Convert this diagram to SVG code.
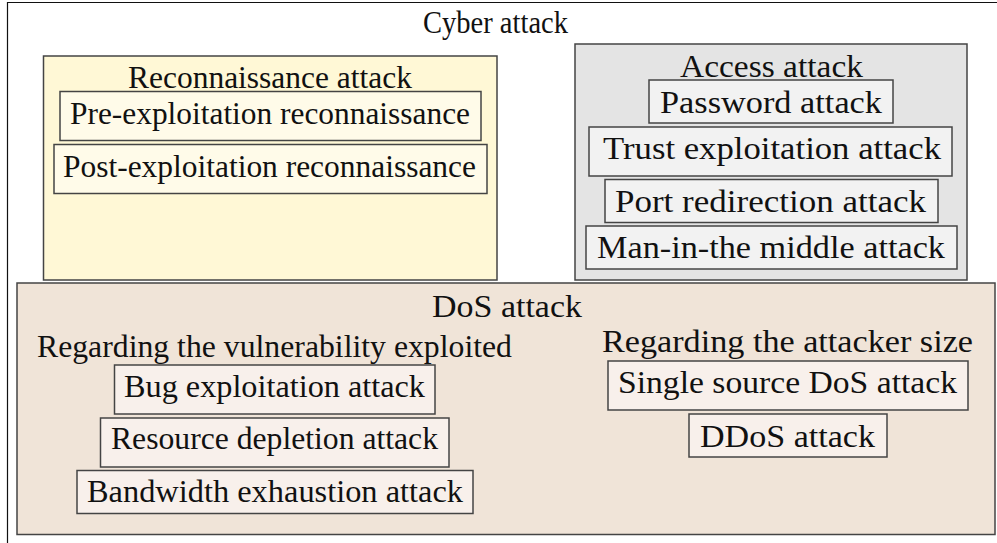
<svg xmlns="http://www.w3.org/2000/svg" width="997" height="543" viewBox="0 0 997 543">
<style>
text{font-family:"Liberation Serif","Times New Roman",serif;font-size:31px;fill:#111;text-anchor:middle}
.box{stroke:#444;stroke-width:1.5}
.rec{fill:#fff8d6}
.reci{fill:#fffbe9}
.acc{fill:#e4e4e4}
.acci{fill:#f2f2f2}
.dos{fill:#f0e4d8}
.dosi{fill:#f8f0eb}
</style>
<rect width="997" height="543" fill="#fff"/>
<g id="cyber">
<path d="M7.5 545 V2.5 H1000" fill="none" stroke="#111" stroke-width="1.2"/>
<text x="495.5" y="33" textLength="145" lengthAdjust="spacingAndGlyphs">Cyber attack</text>
</g>
<g id="recon">
<rect class="box rec" x="43.5" y="56" width="453.5" height="224"/>
<text x="270" y="88" textLength="284" lengthAdjust="spacingAndGlyphs">Reconnaissance attack</text>
</g>
<g id="pre">
<rect class="box reci" x="60" y="91.5" width="421" height="49"/>
<text x="270" y="124" textLength="400" lengthAdjust="spacingAndGlyphs">Pre-exploitation reconnaissance</text>
</g>
<g id="post">
<rect class="box reci" x="54" y="144.5" width="433" height="49"/>
<text x="269.5" y="177" textLength="413" lengthAdjust="spacingAndGlyphs">Post-exploitation reconnaissance</text>
</g>
<g id="access">
<rect class="box acc" x="575" y="44" width="392" height="236"/>
<text x="771.5" y="77" textLength="183" lengthAdjust="spacingAndGlyphs">Access attack</text>
</g>
<g id="password">
<rect class="box acci" x="649" y="80" width="244" height="43"/>
<text x="771" y="113" textLength="222" lengthAdjust="spacingAndGlyphs">Password attack</text>
</g>
<g id="trust">
<rect class="box acci" x="589" y="127" width="363" height="49"/>
<text x="772" y="159" textLength="338" lengthAdjust="spacingAndGlyphs">Trust exploitation attack</text>
</g>
<g id="port">
<rect class="box acci" x="605" y="179.5" width="333" height="43"/>
<text x="770.5" y="212" textLength="311" lengthAdjust="spacingAndGlyphs">Port redirection attack</text>
</g>
<g id="mitm">
<rect class="box acci" x="586" y="226" width="371" height="43"/>
<text x="771" y="258" textLength="348" lengthAdjust="spacingAndGlyphs">Man-in-the middle attack</text>
</g>
<g id="dos">
<rect class="box dos" x="17" y="283" width="978" height="251.5"/>
<text x="507" y="317" textLength="150" lengthAdjust="spacingAndGlyphs">DoS attack</text>
</g>
<g id="vuln">
<text x="274.5" y="357" textLength="475" lengthAdjust="spacingAndGlyphs">Regarding the vulnerability exploited</text>
</g>
<g id="bug">
<rect class="box dosi" x="114.5" y="365" width="320.5" height="49"/>
<text x="274.5" y="397" textLength="301" lengthAdjust="spacingAndGlyphs">Bug exploitation attack</text>
</g>
<g id="resource">
<rect class="box dosi" x="100.5" y="418" width="348.5" height="49"/>
<text x="274.5" y="449" textLength="327" lengthAdjust="spacingAndGlyphs">Resource depletion attack</text>
</g>
<g id="bandwidth">
<rect class="box dosi" x="77" y="470.5" width="396" height="43"/>
<text x="275" y="502" textLength="376" lengthAdjust="spacingAndGlyphs">Bandwidth exhaustion attack</text>
</g>
<g id="size">
<text x="787.5" y="352" textLength="371" lengthAdjust="spacingAndGlyphs">Regarding the attacker size</text>
</g>
<g id="single">
<rect class="box dosi" x="608" y="361" width="360" height="49"/>
<text x="787.5" y="393" textLength="339" lengthAdjust="spacingAndGlyphs">Single source DoS attack</text>
</g>
<g id="ddos">
<rect class="box dosi" x="689" y="414" width="198" height="43"/>
<text x="787.5" y="447" textLength="175" lengthAdjust="spacingAndGlyphs">DDoS attack</text>
</g>
<g id="connectors"></g>
</svg>
